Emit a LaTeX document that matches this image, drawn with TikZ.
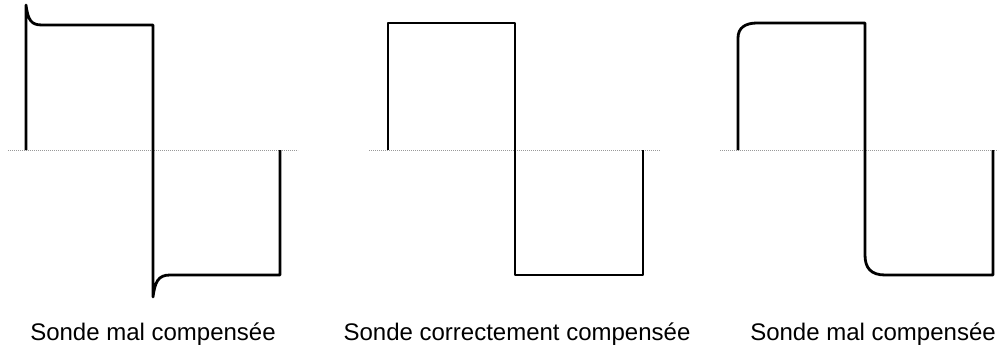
\documentclass[tikz,border=0pt]{standalone}
\usepackage{fontspec}
\setmainfont{Liberation Sans}
\tikzset{
  axe/.style={gray!80, line width=0.9pt, dash pattern=on 0.9pt off 1.1pt},
  signal/.style={line width=2.8pt, line join=round},
  legende/.style={font=\fontsize{24}{28}\selectfont, anchor=base, inner sep=0pt}
}
\begin{document}
\begin{tikzpicture}[x=1pt,y=-1pt]
\useasboundingbox (0,0) rectangle (999,348);
% axes
\foreach \a/\b in {8/298,369/660,720/998}{
\draw [axe] (\a,150) -- (\b,150);
}
% sonde surcompensee
\draw [signal] (26,150) -- (26,5) .. controls (28,20) and (31,25) .. (42,25) -- (153,25) -- (153,297) .. controls (155,282) and (158,275) .. (170,275) -- (280,275) -- (280,150);
% sonde correcte
\draw [signal] (388,150) -- (388,23) -- (515,23) -- (515,275) -- (643,275) -- (643,150);
% sonde souscompensee
\draw [signal] (738,150) -- (738,38) .. controls (738,28) and (745,23) .. (757,23) -- (865,23) -- (865,255) .. controls (865,268) and (871,275) .. (885,275) -- (993,275) -- (993,150);
\node [legende] (mal1) at (153,340) {Sonde mal compensée};
\node [legende] (bon) at (517,340) {Sonde correctement compensée};
\node [legende] (mal2) at (873,340) {Sonde mal compensée};
\end{tikzpicture}
\end{document}
